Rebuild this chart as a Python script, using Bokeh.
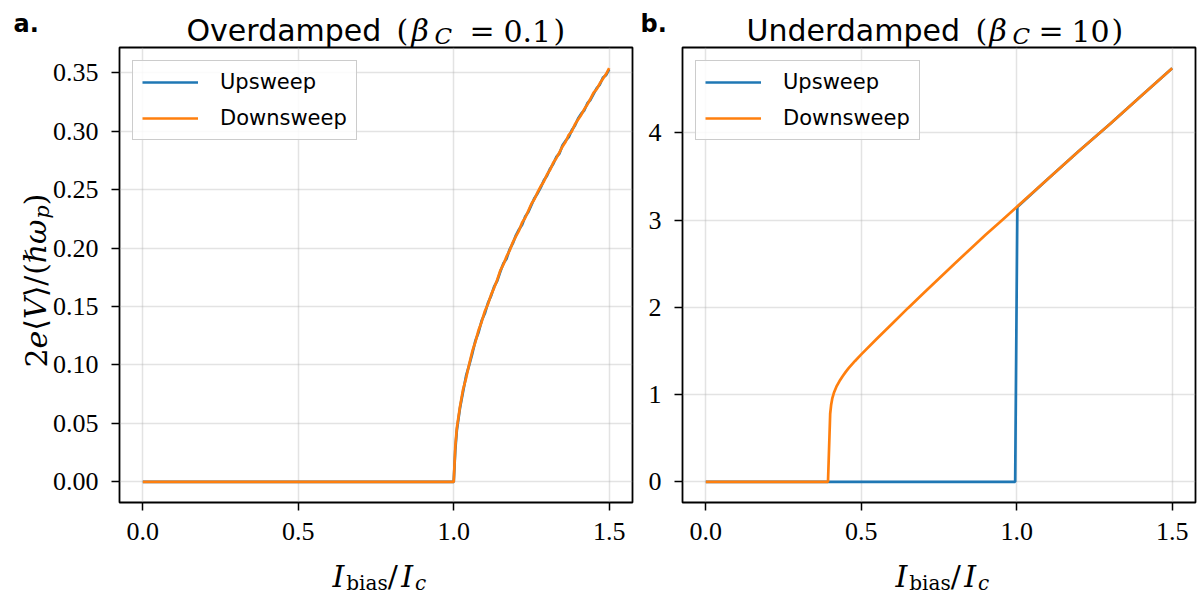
import math
from bokeh.plotting import figure
from bokeh.layouts import row, column
from bokeh.models import (Range1d, FixedTicker, PrintfTickFormatter, Label,
                          Legend, LegendItem, GridBox)
from bokeh.embed import file_html
from bokeh.resources import INLINE

# ---- overdamped junction (beta_C = 0.1): bias current / Ic and 2e<V>/(hbar w_p)
od_bias = [0.000, 1.000, 1.005, 1.010, 1.020, 1.030, 1.040, 1.050, 1.060, 1.070,
           1.080, 1.090, 1.100, 1.110, 1.120, 1.130, 1.140, 1.150, 1.160, 1.170,
           1.180, 1.190, 1.200, 1.210, 1.220, 1.230, 1.240, 1.250, 1.260, 1.270,
           1.280, 1.290, 1.300, 1.310, 1.320, 1.330, 1.340, 1.350, 1.360, 1.370,
           1.380, 1.390, 1.400, 1.410, 1.420, 1.430, 1.440, 1.450, 1.460, 1.470,
           1.480, 1.490, 1.500]
od_up = [0.000, 0.000, 0.027, 0.044, 0.063, 0.077, 0.091, 0.100, 0.110, 0.121,
         0.128, 0.138, 0.144, 0.153, 0.159, 0.167, 0.172, 0.180, 0.187, 0.191,
         0.199, 0.204, 0.211, 0.216, 0.220, 0.227, 0.231, 0.237, 0.243, 0.247,
         0.252, 0.258, 0.262, 0.268, 0.272, 0.278, 0.281, 0.288, 0.292, 0.295,
         0.301, 0.305, 0.311, 0.315, 0.318, 0.324, 0.327, 0.332, 0.337, 0.340,
         0.346, 0.348, 0.353]
od_down = [0.000, 0.000, 0.030, 0.046, 0.064, 0.079, 0.089, 0.101, 0.112, 0.120,
           0.130, 0.137, 0.146, 0.152, 0.160, 0.166, 0.173, 0.181, 0.186, 0.193,
           0.198, 0.205, 0.210, 0.215, 0.222, 0.226, 0.232, 0.238, 0.242, 0.248,
           0.253, 0.257, 0.263, 0.267, 0.273, 0.277, 0.282, 0.287, 0.291, 0.297,
           0.300, 0.306, 0.310, 0.314, 0.319, 0.323, 0.328, 0.333, 0.336, 0.341,
           0.345, 0.349, 0.354]

# ---- underdamped junction (beta_C = 10)
ud_up_bias = [0.0, 0.995, 1.002, 1.10, 1.20, 1.30, 1.40, 1.50]
ud_up = [0.0, 0.0, 3.15, 3.47, 3.79, 4.10, 4.42, 4.74]
ud_down_bias = [0.0, 0.393, 0.400, 0.403, 0.407, 0.412, 0.420, 0.430, 0.440,
                0.450, 0.460, 0.480, 0.500, 0.550, 0.600, 0.650, 0.700, 0.750,
                0.800, 0.850, 0.900, 0.950, 1.000, 1.100, 1.200, 1.300, 1.400,
                1.500]
ud_down = [0.0, 0.0, 0.78, 0.88, 0.96, 1.02, 1.09, 1.155, 1.21,
           1.26, 1.305, 1.385, 1.46, 1.64, 1.815, 1.99, 2.16, 2.33,
           2.50, 2.665, 2.83, 2.99, 3.15, 3.47, 3.79, 4.10, 4.42,
           4.74]

x_ticks = [0.0, 0.5, 1.0, 1.5]
od_y_ticks = [0.0, 0.05, 0.10, 0.15, 0.20, 0.25, 0.30, 0.35]
ud_y_ticks = [0, 1, 2, 3, 4]

BLUE = "#1f77b4"
ORANGE = "#ff7f0e"
SANS = "DejaVu Sans"
SERIF = "Liberation Serif"
MATH = "DejaVu Serif"

W, H = 1200, 594
TOP = 47
FRAME_H = 455
FRAME_W = 513
BOTTOM = TOP + FRAME_H
W1 = 642
LEFT1 = 119
LEFT2 = 682


def padded(lo, hi, frac=0.05):
    d = (hi - lo) * frac
    return Range1d(lo - d, hi + d)


def make_panel(width, frame_left, page_left, y_lo, y_hi, y_ticks, y_fmt):
    p = figure(width=width, height=H,
               x_range=padded(0.0, 1.5), y_range=padded(y_lo, y_hi),
               output_backend="svg", toolbar_location=None,
               min_border_left=frame_left - page_left,
               min_border_right=width - (frame_left - page_left) - FRAME_W,
               min_border_top=TOP, min_border_bottom=H - BOTTOM)
    p.background_fill_color = "white"
    p.border_fill_color = "white"
    p.outline_line_color = "black"
    p.outline_line_width = 1.8
    p.outline_line_alpha = 1.0
    for ax in (p.xaxis[0], p.yaxis[0]):
        ax.axis_line_color = None
        ax.major_tick_line_color = "black"
        ax.major_tick_line_width = 1.5
        ax.major_tick_out = 8
        ax.major_tick_in = 0
        ax.minor_tick_line_color = None
        ax.major_label_text_font = SERIF
        ax.major_label_text_font_size = "26px"
        ax.major_label_text_color = "black"
    p.xaxis.ticker = FixedTicker(ticks=x_ticks)
    p.xaxis.formatter = PrintfTickFormatter(format="%.1f")
    p.yaxis.ticker = FixedTicker(ticks=y_ticks)
    p.yaxis.formatter = PrintfTickFormatter(format=y_fmt)
    p.xaxis.major_label_standoff = 12
    p.yaxis.major_label_standoff = 13
    p.grid.grid_line_color = "#b0b0b0"
    p.grid.grid_line_alpha = 0.35
    p.grid.grid_line_width = 1.5
    return p


def add_legend(p, r_up, r_down):
    leg = Legend(items=[LegendItem(label="Upsweep", renderers=[r_up]),
                        LegendItem(label="Downsweep", renderers=[r_down])],
                 location="top_left", margin=13, padding=9, spacing=12,
                 glyph_width=56, glyph_height=24, label_height=24,
                 label_standoff=22, label_text_font=SANS,
                 label_text_font_size="21px", label_text_color="black",
                 border_line_color="#cccccc", border_line_width=1.5,
                 border_line_alpha=1.0,
                 background_fill_color="white", background_fill_alpha=0.85)
    p.add_layout(leg)


# ---------------- panel a: overdamped ----------------
p1 = make_panel(W1, LEFT1, 0, 0.0, max(od_down), od_y_ticks, "%.2f")
u1 = p1.line(od_bias, od_up, line_color=BLUE, line_width=2.7)
d1 = p1.line(od_bias, od_down, line_color=ORANGE, line_width=2.7)
add_legend(p1, u1, d1)

# ---------------- panel b: underdamped ----------------
p2 = make_panel(W - W1, LEFT2, W1, 0.0, max(ud_down), ud_y_ticks, "%d")
u2 = p2.line(ud_up_bias, ud_up, line_color=BLUE, line_width=2.7)
d2 = p2.line(ud_down_bias, ud_down, line_color=ORANGE, line_width=2.7)
add_legend(p2, u2, d2)

# ---------------- transparent text layer over both panels ----------------
# page pixel coordinates: x to the right, y downwards
ov = figure(width=W, height=H, x_range=Range1d(0, W), y_range=Range1d(H, 0),
            output_backend="svg", toolbar_location=None,
            x_axis_type=None, y_axis_type=None,
            min_border=0, min_border_left=0, min_border_right=0,
            min_border_top=0, min_border_bottom=0)
ov.grid.visible = False
ov.outline_line_color = None
ov.background_fill_color = None
ov.border_fill_color = None
ov.background_fill_alpha = 0
ov.border_fill_alpha = 0


def put(s, X, Y, size, font=MATH, style="normal", align="left", angle=0.0):
    ov.add_layout(Label(x=X, y=Y, text=s, text_font=font,
                        text_font_size=f"{size}px", text_font_style=style,
                        text_color="black", text_align=align,
                        text_baseline="alphabetic", angle=angle))


def title(word, word_x, parts):
    put(word, word_x, 30, 30, font=SANS)
    for s, x0, yb, sz, st in parts:
        put(s, x0, yb, sz, style=st)


def run(pieces, start, base, upward=False):
    """Lay out math pieces one after another.
    pieces: (text, size, style, advance in em, baseline shift)"""
    pos = start
    for s, sz, st, adv, shift in pieces:
        if upward:
            put(s, base + shift, pos, sz, style=st, angle=math.pi / 2)
            pos -= adv * sz
        else:
            put(s, pos, base + shift, sz, style=st)
            pos += adv * sz


XLABEL = [("I", 30, "italic", 0.46, 0), ("bias", 20, "normal", 2.07, 6),
          ("/", 30, "normal", 0.45, 0), ("I", 30, "italic", 0.46, 0),
          ("c", 20, "italic", 0.56, 6)]

YLABEL = [("2", 30, "normal", 0.636, 0), ("e", 30, "italic", 0.592, 0),
          ("\u27e8", 30, "normal", 0.39, 0), ("V", 30, "italic", 0.72, 0),
          ("\u27e9", 30, "normal", 0.39, 0), ("/", 30, "normal", 0.36, 0),
          ("(", 30, "normal", 0.39, 0), ("\u210f", 30, "italic", 0.64, 0),
          ("\u03c9", 30, "italic", 0.84, 0), ("p", 21, "italic", 0.64, 6),
          (")", 30, "normal", 0.39, 0)]

put("a.", 13, 23, 24, font=SANS, style="bold")
put("b.", 640, 23, 24, font=SANS, style="bold")

title("Overdamped", 186, [("(", 396, 30, 30, "normal"),
                          ("\u03b2", 411, 30, 30, "italic"),
                          ("C", 434, 35, 23, "italic"),
                          ("=", 469, 30, 30, "normal"),
                          ("0.1", 503, 30, 30, "normal"),
                          (")", 553, 30, 30, "normal")])
title("Underdamped", 746, [("(", 975, 30, 30, "normal"),
                           ("\u03b2", 989, 30, 30, "italic"),
                           ("C", 1012, 35, 23, "italic"),
                           ("=", 1038, 30, 30, "normal"),
                           ("10", 1071, 30, 30, "normal"),
                           (")", 1111, 30, 30, "normal")])

run(XLABEL, 332, 576)
run(XLABEL, 332 + LEFT2 - LEFT1, 576)
run(YLABEL, 367, 35, upward=True)

# the text layer shares the grid cell with the two panels and sits on top
layout = GridBox(children=[(row(p1, p2), 0, 0), (column(ov), 0, 0)])
open("out.html", "w").write(file_html(layout, INLINE))
